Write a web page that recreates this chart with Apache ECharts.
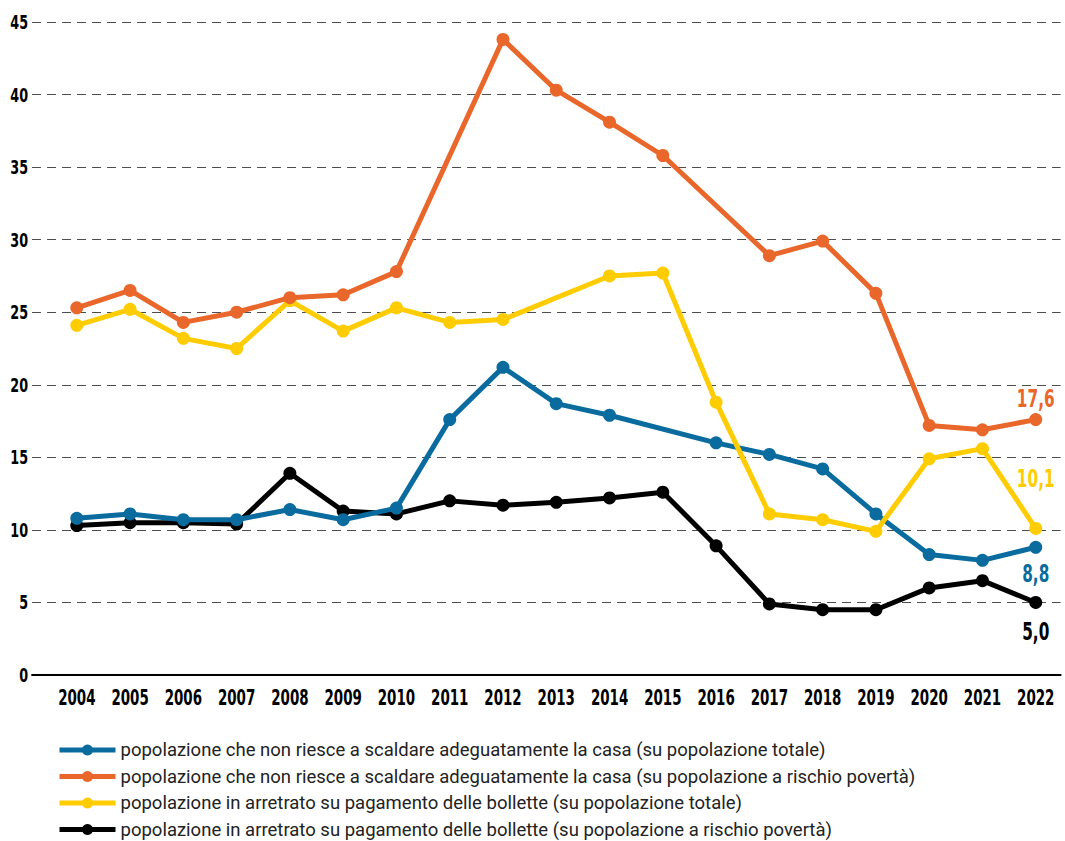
<!DOCTYPE html>
<html>
<head>
<meta charset="utf-8">
<script src="https://cdn.jsdelivr.net/npm/echarts@6/dist/echarts.min.js"></script>
<style>
  html, body { margin: 0; padding: 0; background: #ffffff; }
  #chart { width: 1065px; height: 841px; }
</style>
</head>
<body>
<div id="chart"></div>
<script>
// Years on the horizontal axis
const years = [2004, 2005, 2006, 2007, 2008, 2009, 2010, 2011, 2012, 2013,
               2014, 2015, 2016, 2017, 2018, 2019, 2020, 2021, 2022];

// Series values (%), null where no figure is available
const riscaldamentoTotale = [10.8, 11.1, 10.7, 10.7, 11.4, 10.7, 11.5, 17.6, 21.2, 18.7,
                             17.9, null, 16.0, 15.2, 14.2, 11.1, 8.3, 7.9, 8.8];
const riscaldamentoPoverta = [25.3, 26.5, 24.3, 25.0, 26.0, 26.2, 27.8, null, 43.8, 40.3,
                              38.1, 35.8, null, 28.9, 29.9, 26.3, 17.2, 16.9, 17.6];
const bolletteTotale = [24.1, 25.2, 23.2, 22.5, 25.8, 23.7, 25.3, 24.3, 24.5, null,
                        27.5, 27.7, 18.8, 11.1, 10.7, 9.9, 14.9, 15.6, 10.1];
const bollettePoverta = [10.3, 10.5, 10.5, 10.4, 13.9, 11.3, 11.1, 12.0, 11.7, 11.9,
                         12.2, 12.6, 8.9, 4.9, 4.5, 4.5, 6.0, 6.5, 5.0];

// Y axis ticks
const yTicks = [0, 5, 10, 15, 20, 25, 30, 35, 40, 45];

const seriesNames = [
  'popolazione che non riesce a scaldare adeguatamente la casa (su popolazione totale)',
  'popolazione che non riesce a scaldare adeguatamente la casa (su popolazione a rischio povertà)',
  'popolazione in arretrato su pagamento delle bollette (su popolazione totale)',
  'popolazione in arretrato su pagamento delle bollette (su popolazione a rischio povertà)'
];

const colors = ['#0a6b9e', '#e9672b', '#ffcc00', '#000000'];

// Bold condensed face for all figures; glyphs are narrowed further after rendering
const numFont = "'DejaVu Sans Condensed', 'DejaVu Sans', sans-serif";

function fmtIt(v) { return v.toFixed(1).replace('.', ','); }

// Build [year, value] pairs; the last point carries the value label
function buildData(values, labelPos, labelDist, color) {
  return years.map((y, i) => {
    const v = values[i];
    if (i === years.length - 1) {
      return {
        value: [y, v],
        label: {
          show: true,
          position: labelPos,
          distance: labelDist,
          formatter: () => fmtIt(v),
          color: color,
          fontFamily: numFont,
          fontWeight: 'bold',
          fontSize: 25
        }
      };
    }
    return [y, v];
  });
}

function lineSeries(idx, values, labelPos, labelDist, z) {
  return {
    name: seriesNames[idx],
    type: 'line',
    z: z,
    connectNulls: true,
    symbol: 'circle',
    symbolSize: 13,
    showAllSymbol: true,
    itemStyle: { color: colors[idx] },
    lineStyle: { color: colors[idx], width: 5 },
    emphasis: { disabled: true },
    data: buildData(values, labelPos, labelDist, colors[idx])
  };
}

const chart = echarts.init(document.getElementById('chart'), null, { renderer: 'svg' });

chart.setOption({
  animation: false,
  backgroundColor: '#ffffff',
  grid: { left: 31, right: 0, top: 22, bottom: 166, containLabel: false },
  xAxis: {
    type: 'value',
    min: 2003.16,
    max: 2022.467,
    axisLine: { show: true, lineStyle: { color: '#000000', width: 2 } },
    axisTick: { show: false },
    splitLine: { show: false },
    axisLabel: {
      customValues: years,
      hideOverlap: false,
      formatter: (v) => String(v),
      margin: 12,
      color: '#000000',
      fontFamily: numFont,
      fontWeight: 'bold',
      fontSize: 21
    }
  },
  yAxis: {
    type: 'value',
    min: yTicks[0],
    max: yTicks[yTicks.length - 1],
    interval: 5,
    axisLine: { show: false },
    axisTick: { show: false },
    splitLine: { show: true, lineStyle: { color: '#4d4d4d', width: 1, type: [9, 6] } },
    axisLabel: {
      margin: 4,
      color: '#000000',
      fontFamily: numFont,
      fontWeight: 'bold',
      fontSize: 20
    }
  },
  legend: {
    orient: 'vertical',
    left: 57,
    top: 740,
    height: 101,
    padding: 0,
    itemWidth: 56,
    itemHeight: 14,
    itemGap: 6.5,
    selectedMode: false,
    lineStyle: { width: 5 },
    textStyle: {
      color: '#222222',
      fontFamily: 'Roboto, sans-serif',
      fontSize: 18.5,
      lineHeight: 20
    },
    data: seriesNames
  },
  series: [
    lineSeries(0, riscaldamentoTotale, 'bottom', 7, 2),
    lineSeries(1, riscaldamentoPoverta, 'top', 2, 4),
    lineSeries(2, bolletteTotale, 'top', 31, 3),
    lineSeries(3, bollettePoverta, 'bottom', 10, 1)
  ]
});

// Squeeze the condensed figures horizontally with SVG textLength
function narrowFigures() {
  const svg = document.querySelector('#chart svg');
  if (!svg) return;
  svg.querySelectorAll('text').forEach((t) => {
    if (t.getAttribute('data-narrow')) return;
    const st = (t.getAttribute('style') || '') + ' ' + (t.getAttribute('font-family') || '');
    if (st.indexOf('Condensed') < 0) return;
    const fsMatch = st.match(/(\d+(?:\.\d+)?)px/);
    const fs = fsMatch ? parseFloat(fsMatch[1]) : 20;
    const factor = fs >= 24 ? 0.68 : 0.71;
    const w = t.getComputedTextLength();
    if (!(w > 0)) return;
    t.setAttribute('textLength', (w * factor).toFixed(2));
    t.setAttribute('lengthAdjust', 'spacingAndGlyphs');
    t.setAttribute('data-narrow', '1');
  });
}
narrowFigures();
chart.on('finished', narrowFigures);
</script>
</body>
</html>
